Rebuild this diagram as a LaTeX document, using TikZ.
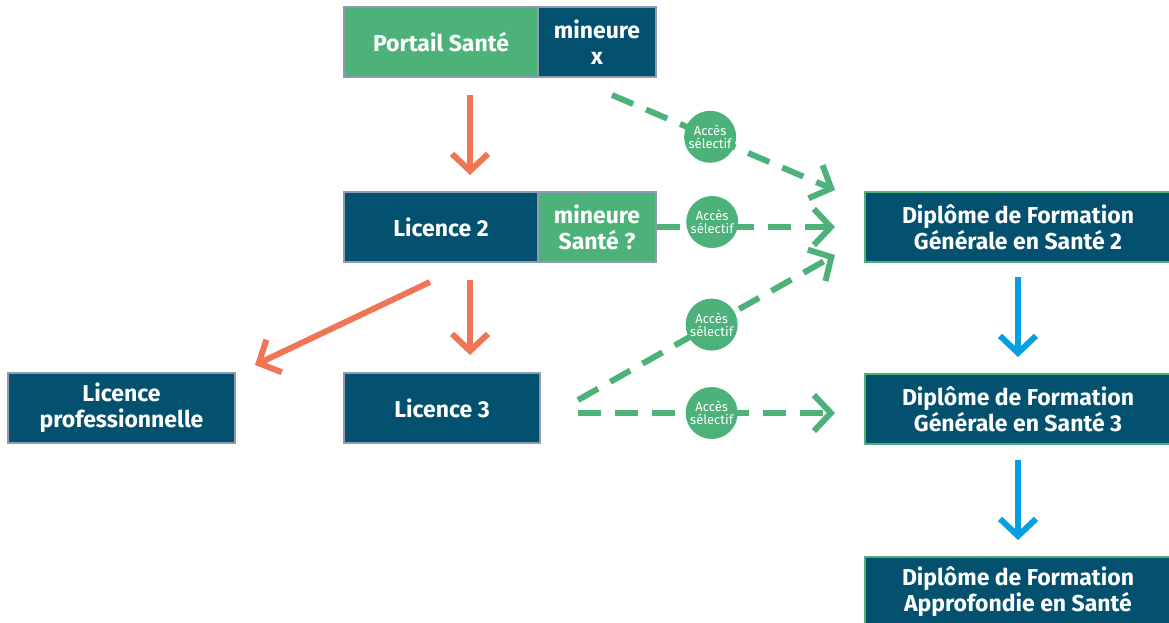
\documentclass[tikz,border=0pt]{standalone}
\usepackage{fontspec}
\setmainfont{Fira Sans}
\usetikzlibrary{arrows.meta}
\definecolor{santegreen}{HTML}{4CB27A}
\definecolor{licblue}{HTML}{03516F}
\definecolor{edgegray}{HTML}{8D9CB3}
\definecolor{arrorange}{HTML}{EE7555}
\definecolor{arrblue}{HTML}{089FE0}
\tikzset{
  box/.style={draw=edgegray, line width=2pt, text=white, align=center,
              minimum height=70pt, inner sep=0pt,
              font=\fontsize{23}{26}\selectfont\bfseries},
  darkbox/.style={box, fill=licblue},
  greenbox/.style={box, fill=santegreen},
  dfbox/.style={darkbox, draw=santegreen, minimum width=306pt},
  acces/.style={circle, fill=santegreen, text=white, align=center,
                minimum size=52pt, inner sep=0pt,
                font=\fontsize{13}{13}\selectfont},
  orangearrow/.style={arrorange, line width=6pt,
                      -{Straight Barb[length=17pt,width=36pt]}},
  bluearrow/.style={arrblue, line width=6pt,
                    -{Straight Barb[length=17pt,width=36pt]}},
  greenarrow/.style={santegreen, line width=6pt, dash pattern=on 23pt off 14pt,
                     -{Straight Barb[length=17pt,width=36pt]}}
}
\begin{document}
\begin{tikzpicture}[x=1pt,y=-1pt]
\useasboundingbox (0,0) rectangle (1169,622);
% left column
\node[greenbox, minimum width=194pt] (portail) at (441,42) {Portail Santé};
\node[darkbox, minimum width=118pt] (minx) at (597,42) {mineure\\x};
\node[darkbox, minimum width=194pt] (lic2) at (441,227) {Licence 2};
\node[greenbox, minimum width=118pt] (minsante) at (597,227) {mineure\\Santé ?};
\node[darkbox, minimum width=196pt] (lic3) at (442,408) {Licence 3};
\node[darkbox, minimum width=227pt] (licpro) at (121.5,408) {Licence\\professionnelle};
% right column
\node[dfbox] (dfgs2) at (1018,227) {Diplôme de Formation\\Générale en Santé 2};
\node[dfbox] (dfgs3) at (1018,409) {Diplôme de Formation\\Générale en Santé 3};
\node[dfbox] (dfas) at (1018,592) {Diplôme de Formation\\Approfondie en Santé};
% arrow ends
\coordinate (p1) at (470,95);   \coordinate (l2in) at (470,175);
\coordinate (l2a) at (470,280); \coordinate (l3in) at (470,355);
\coordinate (l2b) at (430,282); \coordinate (lpin) at (255,365);
\coordinate (d2a) at (1018,277); \coordinate (d3in) at (1018,357);
\coordinate (d3a) at (1018,460); \coordinate (dain) at (1018,540);
\coordinate (mx) at (612,95);   \coordinate (d2top) at (835,190);
\coordinate (d2mid) at (835,227);
\coordinate (l3a) at (578,400); \coordinate (d2low) at (835,255);
\coordinate (l3b) at (578,413); \coordinate (d3mid) at (835,413);
% parcours
\draw[orangearrow] (p1) -- (l2in);
\draw[orangearrow] (l2a) -- (l3in);
\draw[orangearrow] (l2b) -- (lpin);
\draw[bluearrow] (d2a) -- (d3in);
\draw[bluearrow] (d3a) -- (dain);
% acces selectif
\draw[greenarrow] (mx) -- node[acces, pos=0.44] (acc1) {Accès\\sélectif} (d2top);
\draw[greenarrow] (minsante.east) -- node[acces, pos=0.31, yshift=5pt] (acc2) {Accès\\sélectif} (d2mid);
\draw[greenarrow] (l3a) -- node[acces, pos=0.52] (acc3) {Accès\\sélectif} (d2low);
\draw[greenarrow] (l3b) -- node[acces, pos=0.52] (acc4) {Accès\\sélectif} (d3mid);
\end{tikzpicture}
\end{document}
